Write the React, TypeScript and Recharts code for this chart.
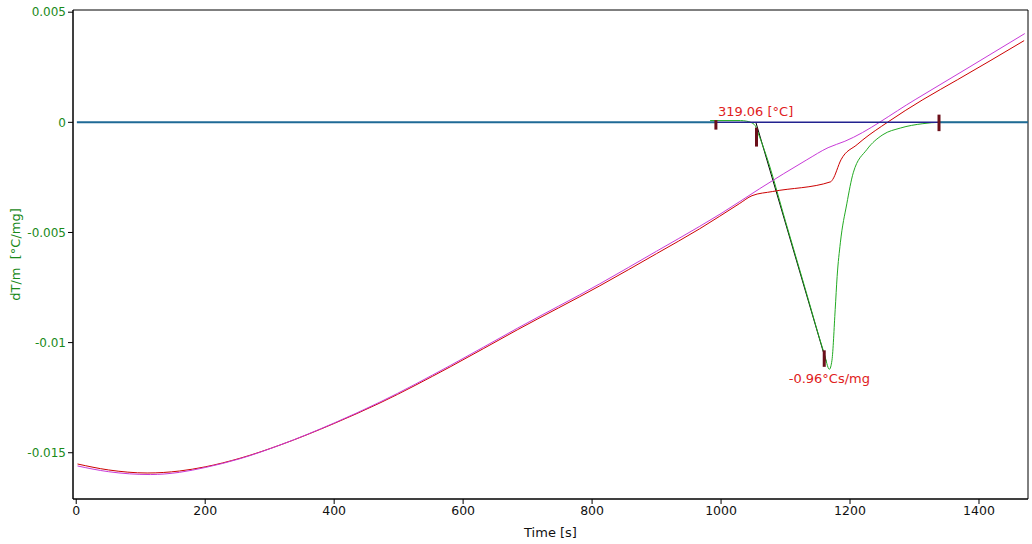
import {
  Label,
  Line,
  LineChart,
  ReferenceArea,
  ReferenceDot,
  XAxis,
  YAxis,
} from "recharts";

const timeTicks = [0, 200, 400, 600, 800, 1000, 1200, 1400];
const dtTicks = [0.005, 0, -0.005, -0.01, -0.015];
const timeDomain = [-5, 1476];
const dtDomain = [-0.0171, 0.0051];

// sample signal (red)
const sampleT = [2, 50, 110, 160, 200, 254, 316, 400, 471, 580, 684, 812, 900, 967, 1029, 1048, 1080, 1170, 1173, 1186, 1211, 1220, 1258, 1313, 1340, 1367, 1470];
const sampleV = [-0.01551, -0.01578, -0.01592, -0.01583, -0.01564, -0.01525, -0.01465, -0.01367, -0.01274, -0.0111, -0.00942, -0.00742, -0.00596, -0.00483, -0.00368, -0.00333, -0.00314, -0.0027, -0.0026, -0.0017, -0.00101, -0.00079, 0, 0.00103, 0.00149, 0.00194, 0.00371];

// reference signal (magenta)
const refT = [2, 50, 115, 160, 200, 254, 316, 400, 471, 580, 684, 812, 900, 967, 1000, 1060, 1133, 1166, 1192, 1301, 1471];
const refV = [-0.0156, -0.01586, -0.01599, -0.01589, -0.01567, -0.01527, -0.01465, -0.01365, -0.0127, -0.01104, -0.00935, -0.00733, -0.00585, -0.00472, -0.00414, -0.00301, -0.0017, -0.00115, -0.00086, 0.00103, 0.00403];

// dT/m (green)
const dtaT = [983, 1030, 1040, 1046, 1053, 1057, 1070, 1100, 1130, 1160, 1168, 1172, 1177, 1180, 1185, 1195, 1205, 1226, 1251, 1278, 1313, 1340, 1476];
const dtaV = [0.00008, 0.00008, 0.00005, 0, -0.00015, -0.00045, -0.0015, -0.0045, -0.0075, -0.0105, -0.01121, -0.0108, -0.0085, -0.007, -0.00547, -0.0037, -0.00229, -0.00124, -0.00056, -0.00026, -0.00006, 0, 0];

const tangentT = [1054, 1163];
const tangentV = [0, -0.01086];

const baseT = [1, 992, 1338, 1476];
const baseV = [0, 0, 0, 0];

const markerT = [992, 1055, 1160, 1338];
const markerTop = [0.0001, -0.00024, -0.01035, 0.00035];
const markerBottom = [-0.00033, -0.0011, -0.0111, -0.0004];

const onsetT = 992;
const onsetLabel = "319.06 [°C]";
const peakT = 1168;
const peakV = -0.01121;
const peakLabel = "-0.96°Cs/mg";

const zip = (ts: number[], vs: number[]) => ts.map((t, i) => ({ t, v: vs[i] }));

const sample = zip(sampleT, sampleV);
const reference = zip(refT, refV);
const dta = zip(dtaT, dtaV);
const tangent = zip(tangentT, tangentV);
const markers = markerT.map((t, i) => [
  { t, v: markerTop[i] },
  { t, v: markerBottom[i] },
]);

const font = "'DejaVu Sans', sans-serif";
const green = "#1a8a1a";

export default function App() {
  return (
    <div style={{ position: "absolute", left: 0, top: 0, fontFamily: font }}>
      <LineChart
        width={1032}
        height={544}
        margin={{ top: 10, right: 4, bottom: 0, left: 0 }}
      >
        <XAxis
          dataKey="t"
          type="number"
          domain={timeDomain}
          allowDataOverflow
          ticks={timeTicks}
          height={45}
          tickSize={5}
          tickMargin={2}
          stroke="#000"
          tick={{ fill: "#111", fontSize: 12.5, fontFamily: font }}
        >
          <Label
            value="Time [s]"
            position="insideBottom"
            offset={7}
            style={{ fill: "#111", fontSize: 13, fontFamily: font }}
          />
        </XAxis>
        <YAxis
          dataKey="v"
          type="number"
          domain={dtDomain}
          allowDataOverflow
          ticks={dtTicks}
          width={73}
          tickSize={5}
          tickMargin={2}
          stroke="#000"
          tick={{ fill: green, fontSize: 12, fontFamily: font }}
        >
          <Label
            content={({ viewBox }: any) => {
              const cx = 15;
              const cy = viewBox.y + viewBox.height / 2;
              return (
                <text
                  x={cx}
                  y={cy}
                  transform={`rotate(-90 ${cx} ${cy})`}
                  textAnchor="middle"
                  dominantBaseline="central"
                  fill={green}
                  fontSize={13}
                  fontFamily={font}
                  style={{ whiteSpace: "pre" }}
                >
                  {"dT/m  [°C/mg]"}
                </text>
              );
            }}
          />
        </YAxis>

        {/* plot frame */}
        <ReferenceArea
          x1={timeDomain[0]}
          x2={timeDomain[1]}
          y1={dtDomain[0]}
          y2={dtDomain[1]}
          fill="none"
          stroke="#000"
          strokeWidth={1}
          ifOverflow="visible"
        />

        <Line data={tangent} dataKey="v" type="linear" stroke="#000" strokeWidth={1} dot={false} isAnimationActive={false} />
        <Line data={dta} dataKey="v" type="monotone" stroke="#22aa22" strokeWidth={1} dot={false} isAnimationActive={false} />
        <Line data={sample} dataKey="v" type="monotone" stroke="#cc0000" strokeWidth={1} dot={false} isAnimationActive={false} />
        <Line data={reference} dataKey="v" type="monotone" stroke="#c83ad8" strokeWidth={1} dot={false} isAnimationActive={false} />
        <Line data={zip(baseT.slice(0, 2), baseV.slice(0, 2))} dataKey="v" type="linear" stroke="#1f6a96" strokeWidth={2} dot={false} isAnimationActive={false} />
        <Line data={zip(baseT.slice(1, 3), baseV.slice(1, 3))} dataKey="v" type="linear" stroke="#22228f" strokeWidth={1.5} dot={false} isAnimationActive={false} />
        <Line data={zip(baseT.slice(2, 4), baseV.slice(2, 4))} dataKey="v" type="linear" stroke="#1f6a96" strokeWidth={2} dot={false} isAnimationActive={false} />
        {markers.map((m, i) => (
          <Line key={i} data={m} dataKey="v" type="linear" stroke="#6b0f1a" strokeWidth={3} dot={false} isAnimationActive={false} />
        ))}

        <ReferenceDot
          x={onsetT}
          y={0}
          r={0}
          shape={(p: any) => (
            <text x={p.cx + 2} y={p.cy - 6} fill="#e02020" fontSize={13} fontFamily={font}>
              {onsetLabel}
            </text>
          )}
        />
        <ReferenceDot
          x={peakT}
          y={peakV}
          r={0}
          shape={(p: any) => (
            <text x={p.cx} y={p.cy + 14} textAnchor="middle" fill="#e02020" fontSize={13} fontFamily={font}>
              {peakLabel}
            </text>
          )}
        />
      </LineChart>
    </div>
  );
}
